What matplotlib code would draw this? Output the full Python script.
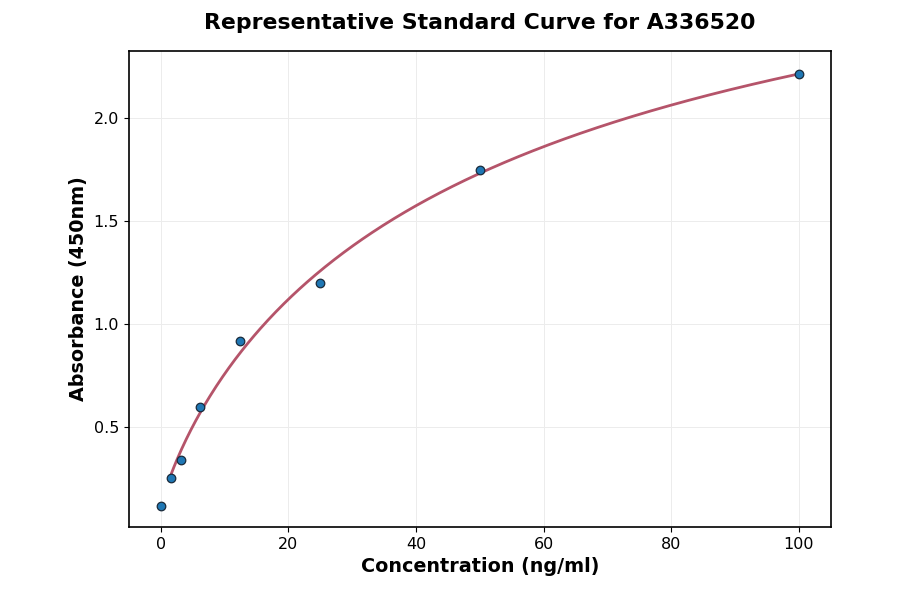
import numpy as np
import matplotlib
matplotlib.use("Agg")
import matplotlib.pyplot as plt

# standard concentrations (ng/ml) and measured absorbance at 450 nm
conc = [0, 1.5625, 3.125, 6.25, 12.5, 25, 50, 100]
absorbance = [0.116, 0.252, 0.340, 0.597, 0.917, 1.199, 1.748, 2.214]


def four_pl(p, x):
    a, b, logc, d = p
    return d + (a - d) / (1.0 + (x / np.exp(logc)) ** b)


def fit_4pl(x, y, p0, n_iter=500):
    # plain Levenberg-Marquardt, numeric jacobian
    p = np.array(p0, dtype=float)
    lam = 1e-2
    res = y - four_pl(p, x)
    cost = (res ** 2).sum()
    for _ in range(n_iter):
        J = np.empty((len(x), len(p)))
        for k in range(len(p)):
            dp = np.zeros_like(p)
            dp[k] = 1e-6 * max(1.0, abs(p[k]))
            J[:, k] = (four_pl(p + dp, x) - four_pl(p - dp, x)) / (2 * dp[k])
        A = J.T @ J
        g = J.T @ res
        step = np.linalg.solve(A + lam * np.diag(np.diag(A) + 1e-12), g)
        p_new = p + step
        res_new = y - four_pl(p_new, x)
        cost_new = (res_new ** 2).sum()
        if np.isfinite(cost_new) and cost_new < cost:
            p, res, cost = p_new, res_new, cost_new
            lam *= 0.3
        else:
            lam *= 5.0
    return p


x = np.array(conc, dtype=float)
y = np.array(absorbance, dtype=float)
params = fit_4pl(x, y, [0.1, 1.0, np.log(50.0), 3.0])

x_fit = np.linspace(x[1], x.max(), 400)
y_fit = four_pl(params, x_fit)

fig = plt.figure(figsize=(9, 5.94), dpi=100)
ax = fig.add_axes([0.143, 0.113, 0.780, 0.801])

ax.plot(x_fit, y_fit, color="#b5546a", lw=2, zorder=2)
ax.scatter(x, y, s=38, color="#1f77b4", edgecolor="#1a2a3a", linewidth=0.9, zorder=3)

ax.set_xlim(-5, 105)
ax.set_ylim(0.015, 2.325)
ax.set_yticks([0.5, 1.0, 1.5, 2.0])
ax.set_xticks([0, 20, 40, 60, 80, 100])
ax.grid(True, color="#ececec", lw=0.7)
ax.set_axisbelow(True)
for s in ax.spines.values():
    s.set_linewidth(1.2)
ax.tick_params(labelsize=11.5)

ax.set_xlabel("Concentration (ng/ml)", fontsize=13.8, fontweight="bold")
ax.set_ylabel("Absorbance (450nm)", fontsize=13.8, fontweight="bold")
ax.set_title("Representative Standard Curve for A336520", fontsize=15.8,
             fontweight="bold", pad=16)

fig.savefig("out.png", dpi=100)
